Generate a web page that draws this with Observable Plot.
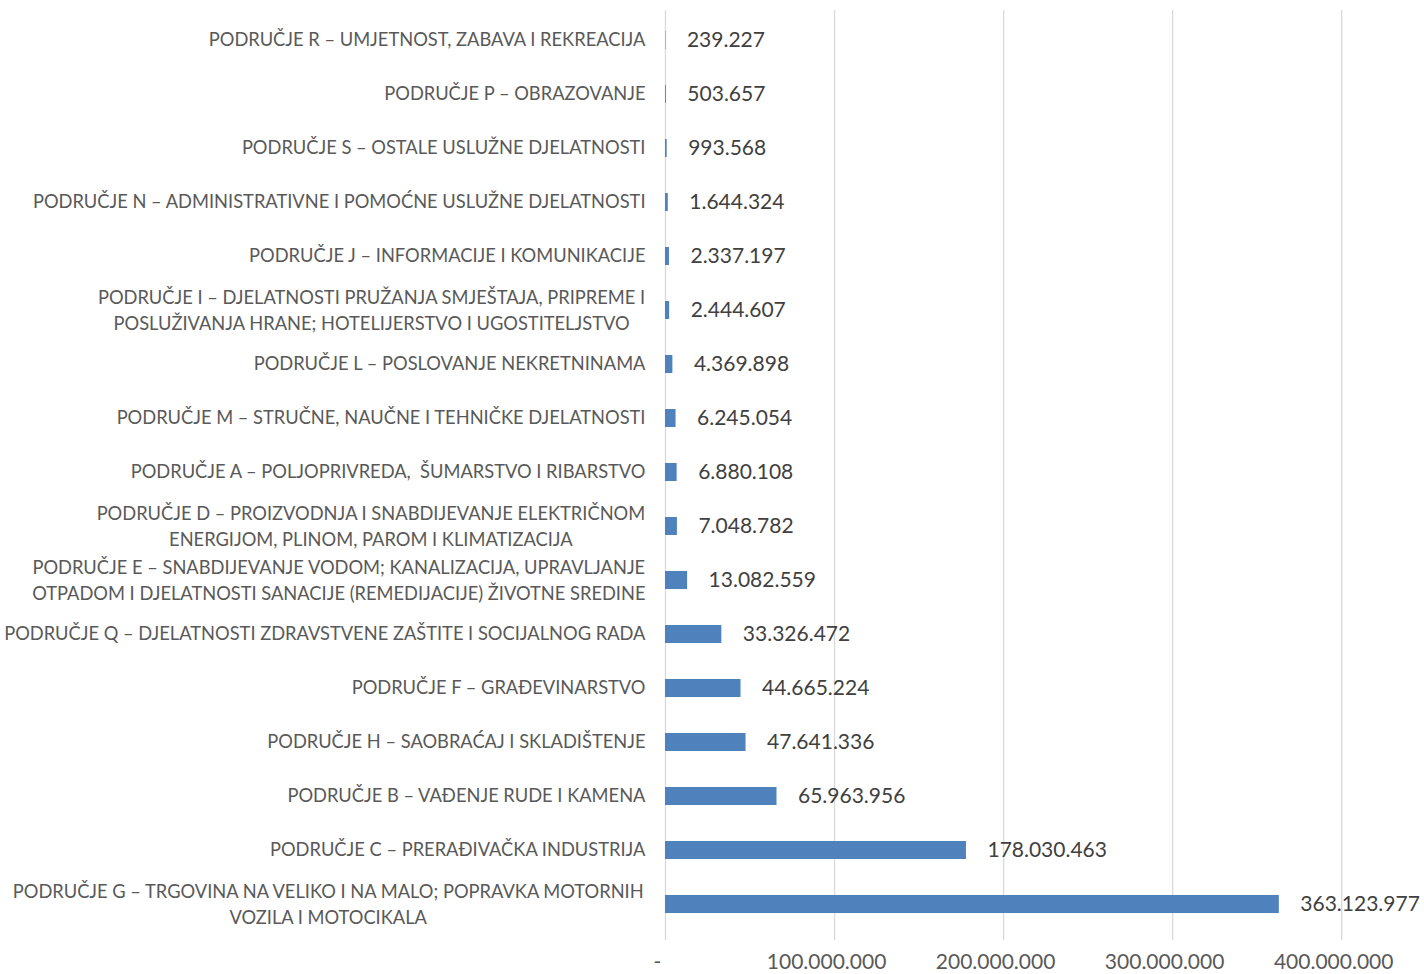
<!DOCTYPE html>
<html>
<head>
<meta charset="utf-8">
<script src="https://cdn.jsdelivr.net/npm/d3@7"></script>
<script src="https://cdn.jsdelivr.net/npm/@observablehq/plot@0.6"></script>
<style>
  html, body { margin: 0; padding: 0; background: #fff; }
  svg text { white-space: pre; }
</style>
</head>
<body>
<div id="chart"></div>
<script>
const categories = [
  "PODRUČJE R – UMJETNOST, ZABAVA I REKREACIJA",
  "PODRUČJE P – OBRAZOVANJE",
  "PODRUČJE S – OSTALE USLUŽNE DJELATNOSTI",
  "PODRUČJE N – ADMINISTRATIVNE I POMOĆNE USLUŽNE DJELATNOSTI",
  "PODRUČJE J – INFORMACIJE I KOMUNIKACIJE",
  "PODRUČJE I – DJELATNOSTI PRUŽANJA SMJEŠTAJA, PRIPREME I\nPOSLUŽIVANJA HRANE; HOTELIJERSTVO I UGOSTITELJSTVO",
  "PODRUČJE L – POSLOVANJE NEKRETNINAMA",
  "PODRUČJE M – STRUČNE, NAUČNE I TEHNIČKE DJELATNOSTI",
  "PODRUČJE A – POLJOPRIVREDA,  ŠUMARSTVO I RIBARSTVO",
  "PODRUČJE D – PROIZVODNJA I SNABDIJEVANJE ELEKTRIČNOM\nENERGIJOM, PLINOM, PAROM I KLIMATIZACIJA",
  "PODRUČJE E – SNABDIJEVANJE VODOM; KANALIZACIJA, UPRAVLJANJE\nOTPADOM I DJELATNOSTI SANACIJE (REMEDIJACIJE) ŽIVOTNE SREDINE",
  "PODRUČJE Q – DJELATNOSTI ZDRAVSTVENE ZAŠTITE I SOCIJALNOG RADA",
  "PODRUČJE F – GRAĐEVINARSTVO",
  "PODRUČJE H – SAOBRAĆAJ I SKLADIŠTENJE",
  "PODRUČJE B – VAĐENJE RUDE I KAMENA",
  "PODRUČJE C – PRERAĐIVAČKA INDUSTRIJA",
  "PODRUČJE G – TRGOVINA NA VELIKO I NA MALO; POPRAVKA MOTORNIH\nVOZILA I MOTOCIKALA"
];
const values = [
  239227, 503657, 993568, 1644324, 2337197, 2444607, 4369898, 6245054,
  6880108, 7048782, 13082559, 33326472, 44665224, 47641336, 65963956,
  178030463, 363123977
];
const xTicks = [0, 100000000, 200000000, 300000000, 400000000];
const xMax = 449000000;

const data = categories.map((c, i) => ({category: c, value: values[i]}));

const FONT = "Lato";
const labelSize = 18.3;
const numSize = 21;
const fmt = d3.formatLocale({decimal: ",", thousands: ".", grouping: [3], currency: ["", ""]}).format(",d");

const ctx = document.createElement("canvas").getContext("2d");
ctx.font = `${labelSize}px ${FONT}`;
const labelMarks = categories.map(c => {
  const lines = c.split("\n");
  if (lines.length === 1) {
    return Plot.text([c], {y: d => d, text: d => d, frameAnchor: "left", textAnchor: "end",
      dx: -20, fontSize: labelSize, fill: "#595959"});
  }
  const w = Math.max(...lines.map(l => ctx.measureText(l).width));
  return Plot.text([c], {y: d => d, text: d => d, frameAnchor: "left", textAnchor: "middle",
    dx: -20 - w / 2, dy: -2, fontSize: labelSize, lineHeight: 1.42, fill: "#595959"});
});

const chart = Plot.plot({
  width: 1424,
  height: 974,
  marginLeft: 665,
  marginRight: 0,
  marginTop: 10,
  marginBottom: 34,
  style: {fontFamily: FONT, background: "#fff"},
  x: {domain: [0, xMax]},
  y: {domain: categories, paddingInner: 0.667, paddingOuter: 0.333, insetBottom: 7, axis: null},
  marks: [
    Plot.ruleX(xTicks, {stroke: "#d9d9d9", strokeWidth: 1.3}),
    Plot.barX(data, {x: "value", y: "category", fill: "#4f81bd"}),
    Plot.text(data, {x: "value", y: "category", text: d => fmt(d.value), textAnchor: "start",
      dx: 21, fontSize: numSize, fill: "#404040"}),
    Plot.axisX({ticks: xTicks, tickSize: 0, tickPadding: 14, dx: -8, fontSize: numSize,
      fill: "#595959", label: null, tickFormat: d => d === 0 ? "-" : fmt(d)}),
    ...labelMarks
  ]
});
document.getElementById("chart").appendChild(chart);
</script>
</body>
</html>
